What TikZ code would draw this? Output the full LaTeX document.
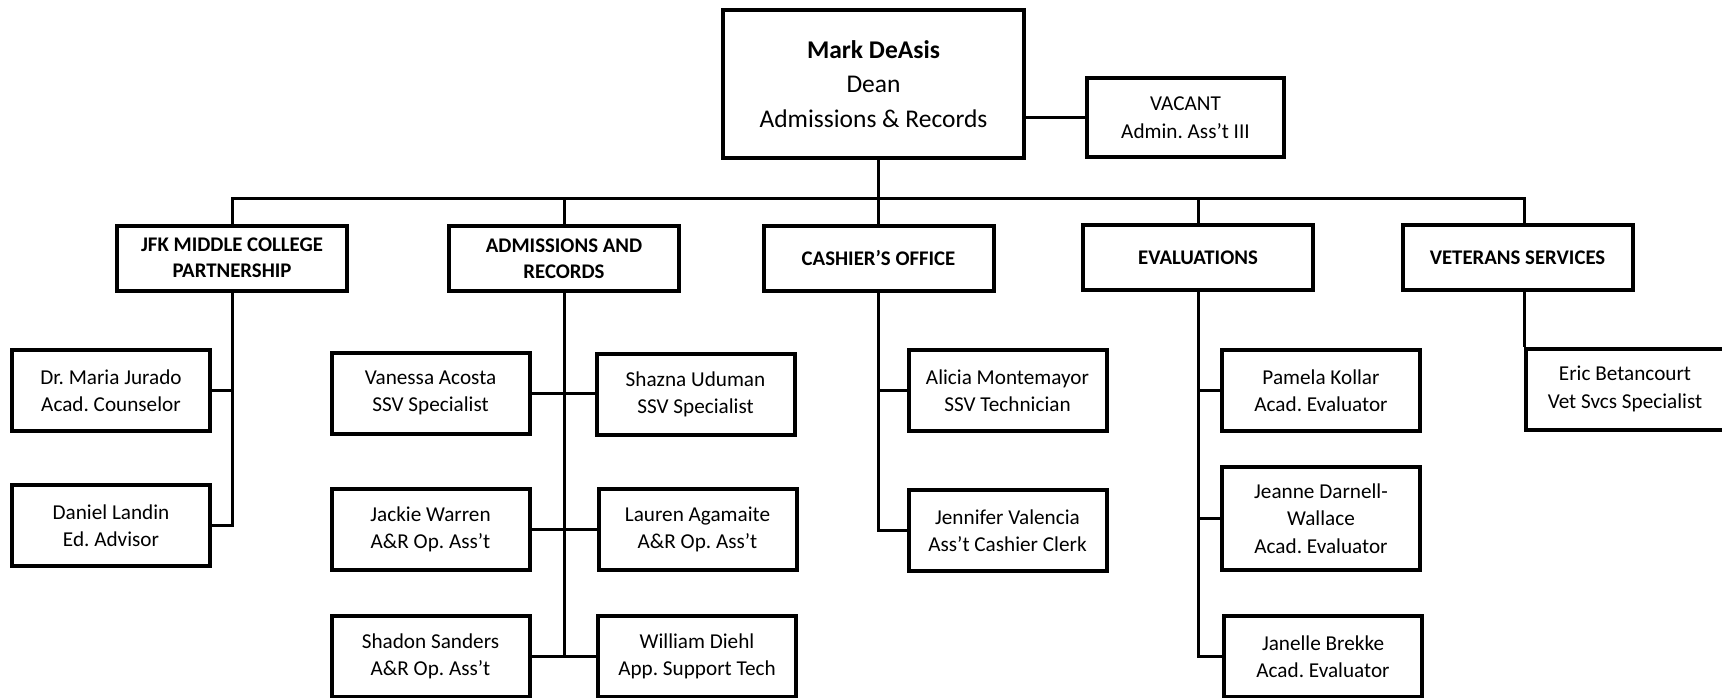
\documentclass[tikz,border=0pt]{standalone}
\usepackage{fontspec}
\setmainfont{Carlito}
\usepackage{tikz}
\frenchspacing

\begin{document}
\begin{tikzpicture}[x=1pt,y=-1pt,
  box/.style={draw, line width=4pt, align=center, inner sep=0pt},
  head/.style={box, minimum width=301pt, minimum height=148pt, font=\fontsize{25.5}{34.5}\selectfont},
  unit/.style={box, minimum width=230pt, minimum height=65pt, font=\fontsize{20.8}{26}\selectfont\bfseries},
  staff/.style={box, minimum width=198pt, minimum height=81pt, font=\fontsize{21.2}{27.5}\selectfont},
  wire/.style={line width=3pt}]
\useasboundingbox (0,0) rectangle (1722,698);
% The dean and the assistant
\node[head] (dean) at (873.5,84) {\textbf{Mark DeAsis}\\Dean\\Admissions \& Records};
\node[staff, minimum width=197pt, minimum height=79pt] (vacant) at (1185.5,117.5) {VACANT\\Admin. Ass’t III};
% The five units
\node[unit] (jfk) at (232,258) {JFK MIDDLE COLLEGE\\PARTNERSHIP};
\node[unit] (adm) at (564,258.5) {ADMISSIONS AND\\RECORDS};
\node[unit] (cash) at (878.5,258.5) {CASHIER’S OFFICE};
\node[unit] (eval) at (1198,257.5) {EVALUATIONS};
\node[unit] (vet) at (1517.5,257.5) {VETERANS SERVICES};
% Staff of each unit
\node[staff] (maria) at (111,390.5) {Dr. Maria Jurado\\Acad. Counselor};
\node[staff] (daniel) at (111,525.5) {Daniel Landin\\Ed. Advisor};
\node[staff] (vanessa) at (430.5,393) {Vanessa Acosta\\SSV Specialist};
\node[staff] (shazna) at (695.5,394.5) {Shazna Uduman\\SSV Specialist};
\node[staff] (jackie) at (430.5,529.5) {Jackie Warren\\A\&R Op. Ass’t};
\node[staff] (lauren) at (697.5,529.5) {Lauren Agamaite\\A\&R Op. Ass’t};
\node[staff] (shadon) at (430.5,656.5) {Shadon Sanders\\A\&R Op. Ass’t};
\node[staff] (william) at (697,656.5) {William Diehl\\App. Support Tech};
\node[staff] (alicia) at (1007.5,390.5) {Alicia Montemayor\\SSV Technician};
\node[staff] (jennifer) at (1007.5,530.5) {Jennifer Valencia\\Ass’t Cashier Clerk};
\node[staff] (pamela) at (1321,390.5) {Pamela Kollar\\Acad. Evaluator};
\node[staff, minimum height=103pt] (jeanne) at (1321,518.5) {Jeanne Darnell-\\Wallace\\Acad. Evaluator};
\node[staff] (janelle) at (1323,656.5) {Janelle Brekke\\Acad. Evaluator};
\node[staff] (eric) at (1625,389) {Eric Betancourt\\Vet Svcs Specialist};
% Top connectors
\coordinate (bus) at (878,198);
\draw[wire] (vacant.west -| dean.east) -- (vacant.west);
\draw[wire] (cash.north) -- (cash.north |- dean.south);
\draw[wire] (jfk.north) |- (bus) -| (eric.north west |- vet.north);
\draw[wire] (adm.north) -- (adm.north |- bus);
\draw[wire] (eval.north) -- (eval.north |- bus);
\draw[wire] (eric.north west |- vet.south) -- (eric.north west);
% JFK
\draw[wire] (jfk.south) |- (daniel.east);
\draw[wire] (maria.east) -- (maria.east -| jfk.south);
% Admissions and records
\draw[wire] (adm.south) -- (adm.south |- shadon.east);
\draw[wire] (vanessa.east) -- (vanessa.east -| shazna.west);
\draw[wire] (jackie.east) -- (lauren.west);
\draw[wire] (shadon.east) -- (william.west);
% Cashier
\draw[wire] (cash.south) |- (jennifer.west);
\draw[wire] (alicia.west) -- (alicia.west -| cash.south);
% Evaluations
\draw[wire] (eval.south) |- (janelle.west);
\draw[wire] (pamela.west) -- (pamela.west -| eval.south);
\draw[wire] (jeanne.west) -- (jeanne.west -| eval.south);
\end{tikzpicture}
\end{document}
